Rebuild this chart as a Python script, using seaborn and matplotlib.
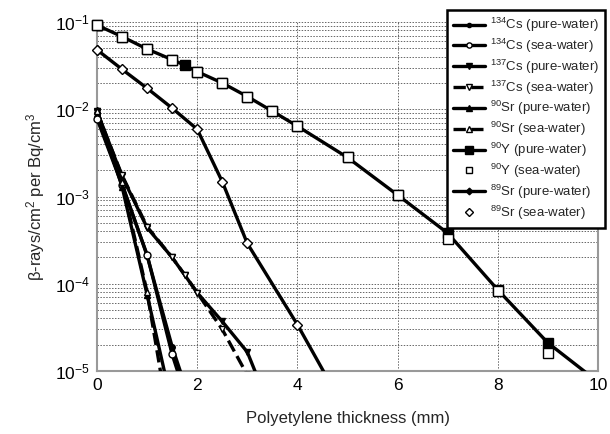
import numpy as np
import pandas as pd
import seaborn as sns
import matplotlib.pyplot as plt
from matplotlib.ticker import LogLocator, MultipleLocator, NullFormatter

# thickness (mm) and beta-ray values
cs134_x = [0, 0.5, 1.0, 1.5, 2.0]
cs134_pure = [8.2e-3, 1.4e-3, 2.1e-4, 1.9e-5, 2.6e-6]
cs134_sea = [7.8e-3, 1.35e-3, 2.15e-4, 1.55e-5, 2.0e-6]

cs137_x = [0, 0.5, 1.0, 1.5, 1.75, 2.0, 2.5, 3.0, 3.5]
cs137_pure = [9.5e-3, 1.7e-3, 4.4e-4, 2.0e-4, 1.26e-4, 7.9e-5, 3.7e-5, 1.65e-5, 3.2e-6]
cs137_sea_x = [0, 0.5, 1.0, 1.5, 1.75, 2.0, 2.5, 3.0]
cs137_sea = [9.2e-3, 1.75e-3, 4.5e-4, 2.0e-4, 1.27e-4, 7.9e-5, 3.0e-5, 9.0e-6]

sr90_x = [0, 0.5, 1.0, 1.5]
sr90_pure = [9.8e-3, 1.3e-3, 7.5e-5, 4.0e-6]
sr90_sea = [9.6e-3, 1.45e-3, 8.0e-5, 1.6e-6]

y90_x = [0, 0.5, 1, 1.5, 1.75, 2, 2.5, 3, 3.5, 4, 5, 6, 7, 8, 9, 10]
y90_pure = [0.092, 0.068, 0.049, 0.037, 0.032, 0.027, 0.020, 0.014, 0.0095,
            0.0064, 0.0028, 0.00104, 3.8e-4, 8.5e-5, 2.1e-5, 7.5e-6]
y90_sea_x = [0, 0.5, 1, 1.5, 2, 2.5, 3, 3.5, 4, 5, 6, 7, 8, 9]
y90_sea = [0.092, 0.068, 0.049, 0.037, 0.027, 0.020, 0.014, 0.0095,
           0.0064, 0.0028, 0.00104, 3.25e-4, 8.2e-5, 1.6e-5]

sr89_x = [0, 0.5, 1, 1.5, 2, 2.5, 3, 4, 5]
sr89_pure = [0.048, 0.0287, 0.0174, 0.0103, 0.0059, 1.48e-3, 2.9e-4, 3.4e-5, 3.2e-6]
sr89_sea_x = [0, 0.5, 1, 1.5, 2, 2.5, 3, 4]
sr89_sea = [0.048, 0.0287, 0.0174, 0.0103, 0.0059, 1.48e-3, 2.9e-4, 3.4e-5]

sns.set_style("white")
plt.rcParams['font.family'] = ['Liberation Sans', 'DejaVu Sans']
plt.rcParams['mathtext.fontset'] = 'custom'
plt.rcParams['mathtext.rm'] = 'Liberation Sans'
plt.rcParams['mathtext.it'] = 'Liberation Sans:italic'
plt.rcParams['mathtext.bf'] = 'Liberation Sans:bold'

fig = plt.figure(figsize=(6.1, 4.34), dpi=100)
ax = fig.add_axes([97 / 610, 1 - 371 / 434, 501 / 610, 349 / 434])
ax.set_yscale('log')

ymin, ymax = 1e-5, 1e-1

# (x, y, label, linestyle, marker, facecolor, markersize, zorder)
series = [
    (cs134_x, cs134_pure, r'$^{134}$Cs (pure-water)', '-', 'o', 'black', 4, 3),
    (cs134_x, cs134_sea, r'$^{134}$Cs (sea-water)', '-', 'o', 'white', 5, 3),
    (cs137_x, cs137_pure, r'$^{137}$Cs (pure-water)', '-', 'v', 'black', 5, 3),
    (cs137_sea_x, cs137_sea, r'$^{137}$Cs (sea-water)', '--', 'v', 'white', 5, 3),
    (sr90_x, sr90_pure, r'$^{90}$Sr (pure-water)', '-', '^', 'black', 5, 3),
    (sr90_x, sr90_sea, r'$^{90}$Sr (sea-water)', '--', '^', 'white', 5, 3),
    (y90_x, y90_pure, r'$^{90}$Y (pure-water)', '-', 's', 'black', 7, 3),
    (y90_sea_x, y90_sea, r'$^{90}$Y (sea-water)', 'none', 's', 'white', 6.5, 4),
    (sr89_x, sr89_pure, r'$^{89}$Sr (pure-water)', '-', 'D', 'black', 4.5, 3),
    (sr89_sea_x, sr89_sea, r'$^{89}$Sr (sea-water)', 'none', 'D', 'white', 5, 4),
]

handles, labels = [], []
for x, y, lab, ls, mk, fc, ms, z in series:
    sns.lineplot(x=x, y=y, ax=ax, color='black', linestyle=ls, linewidth=2.4,
                 marker=mk, markerfacecolor=fc, markeredgecolor='black',
                 markeredgewidth=1, markersize=ms, zorder=z)
    handles.append(ax.lines[-1])
    labels.append(lab)
    # markers on the axis edge should not be cut in half
    keep = [(a, b) for a, b in zip(x, y) if a == 0 and ymin <= b <= ymax]
    if keep:
        sns.lineplot(x=[k[0] for k in keep], y=[k[1] for k in keep], ax=ax,
                     linestyle='none', marker=mk, markerfacecolor=fc,
                     markeredgecolor='black', markeredgewidth=1,
                     markersize=ms, zorder=z + 0.5, clip_on=False)

ax.set_xlim(0, 10)
ax.set_ylim(ymin, ymax)

ax.xaxis.set_major_locator(MultipleLocator(2))
ax.xaxis.set_minor_locator(MultipleLocator(0.5))
ax.yaxis.set_major_locator(LogLocator(base=10, numticks=10))
ax.yaxis.set_minor_locator(LogLocator(base=10, subs=np.arange(2, 10), numticks=20))
ax.yaxis.set_minor_formatter(NullFormatter())

ax.grid(which='major', axis='x', color='#666666', linestyle=(0, (1.5, 1.5)), linewidth=0.7)
ax.grid(which='both', axis='y', color='#666666', linestyle=(0, (1.5, 1.5)), linewidth=0.7)
ax.set_axisbelow(True)

for side in ['left', 'bottom', 'right']:
    ax.spines[side].set_color('#999999')
    ax.spines[side].set_linewidth(1.5)
ax.spines['top'].set_visible(False)

ax.tick_params(which='both', direction='in', color='#888888', labelsize=12.5,
               labelcolor='black', right=False, top=False)
ax.tick_params(which='major', length=5, pad=5)
ax.tick_params(which='minor', length=3)

ax.set_xlabel('Polyetylene thickness (mm)', fontsize=12, labelpad=13)
ax.set_ylabel('β-rays/cm$^2$ per Bq/cm$^3$', fontsize=12, labelpad=6)

leg = fig.legend(handles, labels, loc='upper right',
                 bbox_to_anchor=(605 / 610, 1 - 10 / 434), fontsize=9.5,
                 frameon=True, fancybox=False, framealpha=1, handlelength=2.4,
                 labelspacing=0.2, borderaxespad=0, handletextpad=0.4,
                 borderpad=0.45, markerscale=0.75)
leg.get_frame().set_edgecolor('black')
leg.get_frame().set_linewidth(1.8)
leg.set_zorder(10)

fig.savefig('out.png', dpi=100)
